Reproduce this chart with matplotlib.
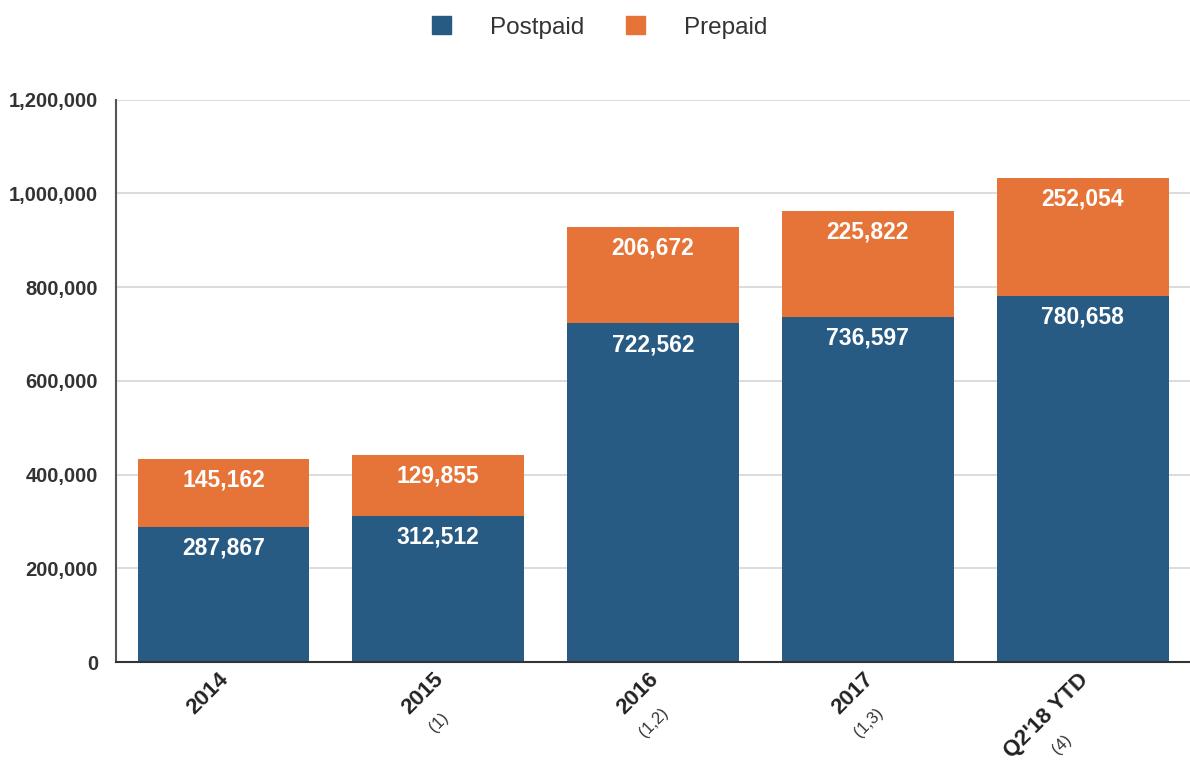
import numpy as np
from matplotlib import pyplot as plt
from matplotlib.patches import Patch
from matplotlib.ticker import FuncFormatter
from matplotlib.transforms import ScaledTranslation

plt.rcParams["font.family"] = ["Liberation Sans", "DejaVu Sans"]

categories = ["2014", "2015", "2016", "2017", "Q2'18 YTD"]
footnotes = ["", "(1)", "(1,2)", "(1,3)", "(4)"]
postpaid = [287867, 312512, 722562, 736597, 780658]
prepaid = [145162, 129855, 206672, 225822, 252054]

BLUE = "#285b84"
ORANGE = "#e67338"

fig = plt.figure(figsize=(11.9, 7.61), dpi=100)
ax = fig.add_axes([0.0975, 0.130, 0.9025, 0.739])

x = np.arange(len(categories))
post = np.array(postpaid)
pre = np.array(prepaid)
ax.bar(x, post, width=0.8, color=BLUE, zorder=2)
ax.bar(x, pre, width=0.8, bottom=post, color=ORANGE, zorder=2)

# value labels sit just under the top of each segment
for xi, p, q in zip(x, post, pre):
    for top, val in ((p, p), (p + q, q)):
        ax.annotate(f"{val:,}", (xi, top), xytext=(0, -7), textcoords="offset points",
                    ha="center", va="top", color="white", fontsize=16.5, fontweight="bold")

ax.set_xlim(-0.5, 4.5)
ax.set_ylim(0, 1200000)
ax.set_yticks(np.arange(0, 1200001, 200000))
ax.yaxis.set_major_formatter(FuncFormatter(lambda v, _: f"{int(v):,}"))
ax.tick_params(axis="y", length=0, pad=13, labelsize=14.5, labelcolor="#333333")
for lbl in ax.get_yticklabels():
    lbl.set_fontweight("bold")

ax.set_xticks(x)
ax.set_xticklabels(categories, rotation=45, ha="right", rotation_mode="anchor",
                   fontsize=16, fontweight="bold", color="#222222")
ax.tick_params(axis="x", length=0, pad=5)
shift = ScaledTranslation(-5 / 100, 0, fig.dpi_scale_trans)
for lbl in ax.get_xticklabels():
    lbl.set_transform(lbl.get_transform() + shift)

ax.grid(axis="y", color="#d6d6d6", linewidth=1.2, zorder=0)
ax.set_axisbelow(True)
for side in ("top", "right"):
    ax.spines[side].set_visible(False)
ax.spines["left"].set_color("#555555")
ax.spines["left"].set_linewidth(1.5)
ax.spines["bottom"].set_color("#333333")
ax.spines["bottom"].set_linewidth(1.5)

handles = [Patch(color=BLUE, label="Postpaid"), Patch(color=ORANGE, label="Prepaid")]
fig.legend(handles=handles, loc="upper center", bbox_to_anchor=(0.504, 1.008), ncol=2,
           frameon=False, fontsize=17.5, handlelength=0.8, handleheight=0.8,
           handletextpad=1.6, columnspacing=1.7, labelcolor="#333333")

# footnotes act as a second, smaller line under each rotated tick label
fig.canvas.draw()
renderer = fig.canvas.get_renderer()
for lbl, fn in zip(ax.get_xticklabels(), footnotes):
    if not fn:
        continue
    bb = lbl.get_window_extent(renderer)
    cx, cy = (bb.x0 + bb.x1) / 2, (bb.y0 + bb.y1) / 2
    fig.text(cx + 16, cy - 29, fn, transform=None, ha="center", va="center",
             rotation=45, rotation_mode="anchor", fontsize=12, color="#333333")

fig.savefig("out.png", dpi=100)
